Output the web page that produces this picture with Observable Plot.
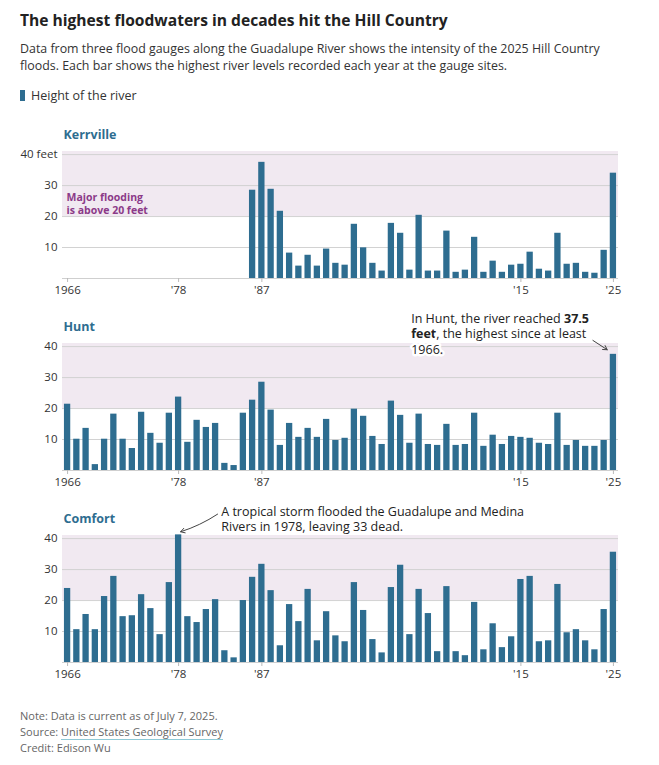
<!DOCTYPE html>
<html>
<head>
<meta charset="utf-8">
<script src="https://cdn.jsdelivr.net/npm/d3@7"></script>
<script src="https://cdn.jsdelivr.net/npm/@observablehq/plot@0.6"></script>
<style>
  body { margin: 0; background: #fff; font-family: "Open Sans", sans-serif; color: #222; width: 659px; }
  .hd { padding-left: 20px; padding-right: 20px; }
  h1 { margin: 0; padding-top: 10px; font-size: 15.6px; line-height: 20px; font-weight: 700; color: #222; }
  .sub { margin: 9.5px 0 0 0; width: 595px; font-size: 12.4px; line-height: 17px; color: #333; }
  .legend { margin-top: 13px; font-size: 12.5px; line-height: 17px; color: #333; display: flex; align-items: center; }
  .legend .sw { display: inline-block; width: 5px; height: 11px; margin-right: 6px; }
  #charts { margin-top: 11.5px; }
  #charts svg { display: block; overflow: visible; }
  .foot { margin-top: 17px; font-size: 11px; line-height: 16px; color: #666; }
  .foot .src { border-bottom: 1.5px solid #8ec9d6; }
</style>
</head>
<body>
<div class="hd">
  <h1>The highest floodwaters in decades hit the Hill Country</h1>
  <p class="sub">Data from three flood gauges along the Guadalupe River shows the intensity of the 2025 Hill Country floods. Each bar shows the highest river levels recorded each year at the gauge sites.</p>
  <div class="legend"><span class="sw" id="sw"></span>Height of the river</div>
</div>
<div id="charts"></div>
<div class="hd foot">
  <div>Note: Data is current as of July 7, 2025.</div>
  <div>Source: <span class="src">United States Geological Survey</span></div>
  <div>Credit: Edison Wu</div>
</div>
<script>
// ---- data ----
const startYear = 1966;
const endYear = 2025;

const kerrvilleHeights = [
  null, null, null, null, null, null, null, null, null, null,
  null, null, null, null, null, null, null, null, null, null,
  28.5, 37.5, 28.8, 21.7, 8.2, 4.0, 7.5, 4.0, 9.5, 4.9,
  4.3, 17.5, 9.9, 4.9, 2.4, 17.8, 14.6, 2.7, 20.4, 2.4,
  2.4, 15.3, 2.0, 2.7, 13.3, 2.0, 5.6, 2.0, 4.3, 4.6,
  8.5, 3.0, 2.4, 14.6, 4.6, 4.9, 2.0, 1.7, 9.1, 34.0
];
const huntHeights = [
  21.4, 10.1, 13.6, 1.9, 10.1, 18.2, 10.1, 7.1, 18.8, 12.0,
  8.8, 18.5, 23.7, 9.1, 16.2, 13.9, 15.2, 2.3, 1.6, 18.5,
  22.7, 28.5, 19.5, 8.1, 15.2, 10.7, 13.6, 10.7, 16.5, 9.7,
  10.4, 19.8, 17.5, 11.0, 8.4, 22.4, 17.8, 8.8, 18.2, 8.4,
  8.1, 14.9, 8.1, 8.4, 18.5, 7.8, 11.4, 8.4, 11.0, 10.7,
  10.4, 8.8, 8.4, 18.5, 8.1, 9.7, 7.8, 7.8, 9.7, 37.5
];
const comfortHeights = [
  23.9, 10.6, 15.5, 10.6, 21.3, 27.8, 14.8, 15.1, 21.9, 17.4,
  9.0, 25.8, 41.2, 14.8, 12.9, 17.1, 20.3, 3.8, 1.5, 20.0,
  27.5, 31.7, 23.2, 5.4, 18.7, 13.2, 23.6, 7.0, 16.4, 8.6,
  6.7, 25.8, 16.8, 7.4, 3.1, 24.2, 31.4, 9.0, 23.6, 15.8,
  3.5, 24.5, 3.5, 2.2, 19.4, 4.1, 12.5, 4.8, 8.3, 26.8,
  27.8, 6.7, 7.0, 25.2, 9.6, 10.6, 7.0, 4.1, 17.1, 35.6
];

const xTickYears = [1966, 1978, 1987, 2015, 2025];
const xTickLabels = ["1966", "'78", "'87", "'15", "'25"];
const yTicks = [10, 20, 30, 40];
const yMax = 41;
const majorFloodLevel = 20;

const panels = [
  {name: "Kerrville", values: kerrvilleHeights, topLabel: "40 feet"},
  {name: "Hunt", values: huntHeights, topLabel: "40"},
  {name: "Comfort", values: comfortHeights, topLabel: "40"}
];

// annotations (anchored in data space)
const floodNote = {panel: "Kerrville", year: 1966, value: 24.3, text: "Major flooding\nis above 20 feet"};
const huntNote = {panel: "Hunt", year: 2003, value: 44.3, text: "In Hunt, the river reached 37.5\nfeet, the highest since at least\n1966.", bold: ["37.5", "feet"]};
const huntArrow = {from: 2023, fromValue: 42.0, to: 2025, toValue: 38.1};
const comfortNote = {panel: "Comfort", year: 1983, value: 46.5, text: "A tropical storm flooded the Guadalupe and Medina\nRivers in 1978, leaving 33 dead."};
const comfortArrow = {from: 1982, fromValue: 47.9, to: 1978, toValue: 42.2};

// ---- style ----
const barColor = "#2e6d90";
const shadeColor = "#f1e9f1";
const gridColor = "#d2d2d2";
const titleColor = "#2e6d90";
const floodTextColor = "#8b3a88";
const font = "'Open Sans', sans-serif";

document.getElementById("sw").style.background = barColor;

const years = [];
for (let y = startYear; y <= endYear; y++) years.push(y);

function makePanel(p) {
  const data = p.values.map((v, i) => ({year: startYear + i, value: v})).filter(d => d.value != null);
  const marks = [
    Plot.rect([{lo: majorFloodLevel, hi: yMax}], {y1: "lo", y2: "hi", fill: shadeColor}),
    Plot.gridY(yTicks, {stroke: gridColor, strokeOpacity: 1}),
    Plot.ruleY([0], {stroke: "#cfcfcf"}),
    Plot.barY(data, {x: "year", y: "value", fill: barColor}),
    Plot.axisY({ticks: yTicks, tickSize: 0, tickPadding: 5, fontSize: 11.5, fill: "#333",
      tickFormat: d => d === 40 ? p.topLabel : String(d)}),
    Plot.axisX({ticks: xTickYears, tickSize: 4, tickPadding: 3, stroke: "#bbb", fill: "#333", fontSize: 11.5,
      tickFormat: d => xTickLabels[xTickYears.indexOf(d)]}),
    Plot.text([p.name], {frameAnchor: "top-left", text: d => d, dx: 1, dy: -17, lineAnchor: "middle",
      fontSize: 12.5, fontWeight: "bold", fill: titleColor})
  ];
  if (p.name === floodNote.panel) {
    marks.push(Plot.text([floodNote], {x: "year", y: "value", text: "text", dx: -1, textAnchor: "start",
      lineAnchor: "middle", lineHeight: 1.25, fontSize: 10.5, fontWeight: "bold", fill: floodTextColor}));
  }
  if (p.name === huntNote.panel) {
    marks.push(Plot.text([huntNote], {x: "year", y: "value", text: "text", dx: 1.3, textAnchor: "start",
      lineAnchor: "middle", lineHeight: 1.25, fontSize: 12.5, fill: "#222", stroke: "white", strokeWidth: 5,
      paintOrder: "stroke"}));
    marks.push(Plot.arrow([huntArrow], {x1: "from", y1: "fromValue", x2: "to", y2: "toValue", dx: -2,
      insetEnd: 5, headLength: 7, stroke: "#444", strokeWidth: 1}));
  }
  if (p.name === comfortNote.panel) {
    marks.push(Plot.text([comfortNote], {x: "year", y: "value", text: "text", dx: -3.6, textAnchor: "start",
      lineAnchor: "middle", lineHeight: 1.2, fontSize: 12.5, fill: "#222"}));
    marks.push(Plot.arrow([comfortArrow], {x1: "from", y1: "fromValue", x2: "to", y2: "toValue", dx: 2,
      bend: 8, headLength: 7, stroke: "#444", strokeWidth: 1}));
  }
  const svg = Plot.plot({
    width: 659, height: 192,
    marginLeft: 62, marginRight: 41, marginTop: 36, marginBottom: 29,
    style: {fontFamily: font, overflow: "visible", background: "transparent", color: "#333"},
    x: {type: "band", domain: years, paddingInner: 0.32, paddingOuter: 0.21, round: false, label: null},
    y: {domain: [0, yMax], label: null},
    marks
  });
  if (p.name === huntNote.panel) {
    d3.select(svg).selectAll("text").filter(function() { return this.textContent.startsWith("In Hunt"); })
      .each(function() {
        d3.select(this).selectAll("tspan").each(function() {
          let t = this.textContent;
          for (const w of huntNote.bold) {
            if (t.includes(w)) t = t.replace(w, `<tspan font-weight="bold">${w}</tspan>`);
          }
          this.innerHTML = t;
        });
      });
  }
  return svg;
}

const holder = document.getElementById("charts");
for (const p of panels) holder.appendChild(makePanel(p));
</script>
</body>
</html>
